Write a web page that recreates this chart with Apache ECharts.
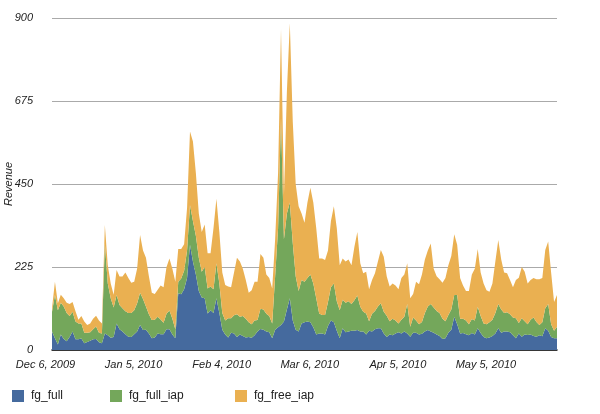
<!DOCTYPE html>
<html>
<head>
<meta charset="utf-8">
<script src="https://cdn.jsdelivr.net/npm/echarts@6/dist/echarts.min.js"></script>
<style>
  html, body { margin: 0; padding: 0; background: #fff; }
  #container { width: 600px; height: 414px; }
</style>
</head>
<body>
<div id="container"></div>
<script>
// daily revenue, Dec 6 2009 .. May 27 2010
let startDate = new Date(2009, 11, 6);
let dayCount = 173;
let xTickLabels = ['Dec 6, 2009', 'Jan 5, 2010', 'Feb 4, 2010', 'Mar 6, 2010', 'Apr 5, 2010', 'May 5, 2010'];
let yTicks = [0, 225, 450, 675, 900];

let fgFull = [
  50, 32, 15, 42, 30, 24, 35, 50, 29, 29, 31, 18, 22, 25, 29, 30, 21, 18, 45, 40,
  33, 35, 72, 56, 50, 43, 36, 35, 43, 50, 68, 54, 55, 45, 32, 34, 45, 43, 43, 56,
  56, 42, 32, 154, 151, 165, 195, 285, 240, 205, 160, 142, 140, 99, 108, 100, 140, 100, 55, 42,
  34, 47, 45, 35, 42, 38, 34, 35, 33, 40, 50, 57, 55, 50, 48, 32, 55, 62, 68, 77,
  110, 140, 80, 55, 50, 72, 75, 77, 75, 62, 42, 45, 45, 42, 65, 80, 75, 52, 32, 59,
  48, 50, 52, 52, 54, 50, 50, 42, 52, 50, 56, 59, 59, 45, 35, 42, 40, 45, 48, 45,
  50, 45, 36, 47, 47, 42, 44, 50, 54, 50, 47, 42, 38, 30, 32, 47, 55, 90, 70, 45,
  46, 43, 40, 46, 42, 59, 46, 35, 32, 34, 38, 45, 59, 47, 50, 50, 48, 40, 32, 45,
  36, 42, 41, 42, 38, 36, 40, 37, 59, 52, 35, 32, 32
];
let fgFullIap = [
  54, 117, 93, 86, 88, 76, 57, 54, 48, 43, 41, 29, 25, 23, 27, 34, 26, 27, 244, 140,
  107, 80, 77, 66, 63, 62, 64, 65, 65, 77, 87, 84, 63, 52, 49, 48, 45, 40, 31, 42,
  51, 43, 24, 31, 43, 50, 75, 108, 110, 105, 90, 70, 85, 68, 64, 65, 95, 80, 45, 38,
  52, 39, 49, 62, 48, 54, 51, 40, 37, 40, 31, 55, 55, 48, 44, 40, 145, 268, 561, 223,
  260, 260, 210, 145, 110, 118, 110, 118, 130, 118, 98, 54, 50, 53, 65, 90, 105, 80, 76, 77,
  80, 82, 73, 83, 94, 67, 54, 57, 26, 48, 50, 59, 68, 59, 58, 36, 45, 35, 24, 37,
  40, 80, 27, 41, 33, 28, 32, 50, 64, 75, 68, 64, 62, 55, 46, 48, 55, 59, 79, 40,
  39, 37, 30, 38, 38, 58, 46, 37, 38, 41, 44, 55, 66, 63, 50, 52, 49, 48, 54, 28,
  50, 36, 29, 40, 50, 40, 28, 38, 54, 73, 35, 20, 31
];
let fgFreeIap = [
  9, 36, 19, 22, 22, 28, 33, 26, 28, 10, 20, 30, 21, 24, 29, 29, 33, 27, 50, 50,
  40, 35, 68, 77, 86, 105, 95, 82, 77, 94, 157, 132, 132, 103, 74, 70, 73, 92, 96, 127,
  141, 135, 129, 89, 80, 72, 115, 199, 215, 170, 120, 108, 115, 95, 90, 165, 175, 140, 110, 96,
  86, 84, 116, 153, 150, 128, 105, 80, 92, 105, 104, 148, 140, 107, 103, 95, 100, 150, 241, 120,
  330, 486, 330, 250, 230, 180, 160, 205, 235, 220, 190, 149, 153, 149, 140, 180, 210, 198, 122, 112,
  112, 113, 105, 145, 172, 118, 104, 113, 87, 92, 102, 122, 144, 149, 107, 94, 95, 95, 93, 113,
  115, 110, 77, 64, 105, 108, 129, 145, 152, 164, 105, 94, 92, 97, 117, 135, 145, 165, 136, 110,
  90, 80, 90, 121, 140, 157, 118, 108, 92, 83, 98, 140, 173, 135, 110, 106, 93, 82, 104, 123,
  139, 134, 110, 108, 107, 116, 124, 120, 158, 169, 140, 78, 86
];

let days = [];
for (let i = 0; i < dayCount; i++) {
  let d = new Date(startDate.getTime());
  d.setDate(d.getDate() + i);
  days.push(d.getFullYear() + '-' + (d.getMonth() + 1) + '-' + d.getDate());
}

let colors = ['#456a9e', '#74a75b', '#eab051'];
let labelFont = { fontFamily: 'Liberation Sans', fontStyle: 'italic', fontSize: 11, color: '#222' };

var myChart = echarts.init(document.getElementById('container'));

function areaSeries(name, data, color) {
  return {
    name: name,
    type: 'line',
    stack: 'revenue',
    data: data,
    symbol: 'none',
    smooth: false,
    lineStyle: { width: 0 },
    areaStyle: { color: color, opacity: 1 },
    itemStyle: { color: color },
  };
}

function legendAt(left, name) {
  return {
    left: left,
    top: 390,
    data: [name],
    icon: 'rect',
    itemWidth: 12,
    itemHeight: 12,
    itemGap: 0,
    padding: 0,
    textStyle: { fontFamily: 'Liberation Sans', fontSize: 12, color: '#222', padding: [0, 0, 0, 2] },
  };
}

let option = {
  animation: false,
  color: colors,
  grid: {
    left: 52,
    right: 43,
    top: 18,
    bottom: 64,
    containLabel: false,
    outerBoundsMode: 'none',
  },
  legend: [legendAt(12, 'fg_full'), legendAt(110, 'fg_full_iap'), legendAt(235, 'fg_free_iap')],
  xAxis: {
    type: 'category',
    data: days,
    boundaryGap: false,
    axisLine: { lineStyle: { color: '#111', width: 1.5 } },
    axisTick: { show: false },
    axisLabel: Object.assign({}, labelFont, {
      interval: 29,
      margin: 9,
      padding: [0, 13, 0, 0],
      formatter: function (value, index) {
        return xTickLabels[index / 30] || '';
      },
    }),
    splitLine: { show: false },
  },
  yAxis: {
    type: 'value',
    min: yTicks[0],
    max: yTicks[yTicks.length - 1],
    interval: yTicks[1] - yTicks[0],
    name: 'Revenue',
    nameLocation: 'middle',
    nameRotate: 90,
    nameGap: 38,
    nameMoveOverlap: false,
    nameTextStyle: labelFont,
    axisLine: { show: false },
    axisTick: { show: false },
    axisLabel: Object.assign({}, labelFont, { margin: 19 }),
    splitLine: { lineStyle: { color: '#aaa', width: 1 } },
  },
  series: [
    areaSeries('fg_full', fgFull, colors[0]),
    areaSeries('fg_full_iap', fgFullIap, colors[1]),
    areaSeries('fg_free_iap', fgFreeIap, colors[2]),
  ],
};

myChart.setOption(option);
</script>
</body>
</html>
